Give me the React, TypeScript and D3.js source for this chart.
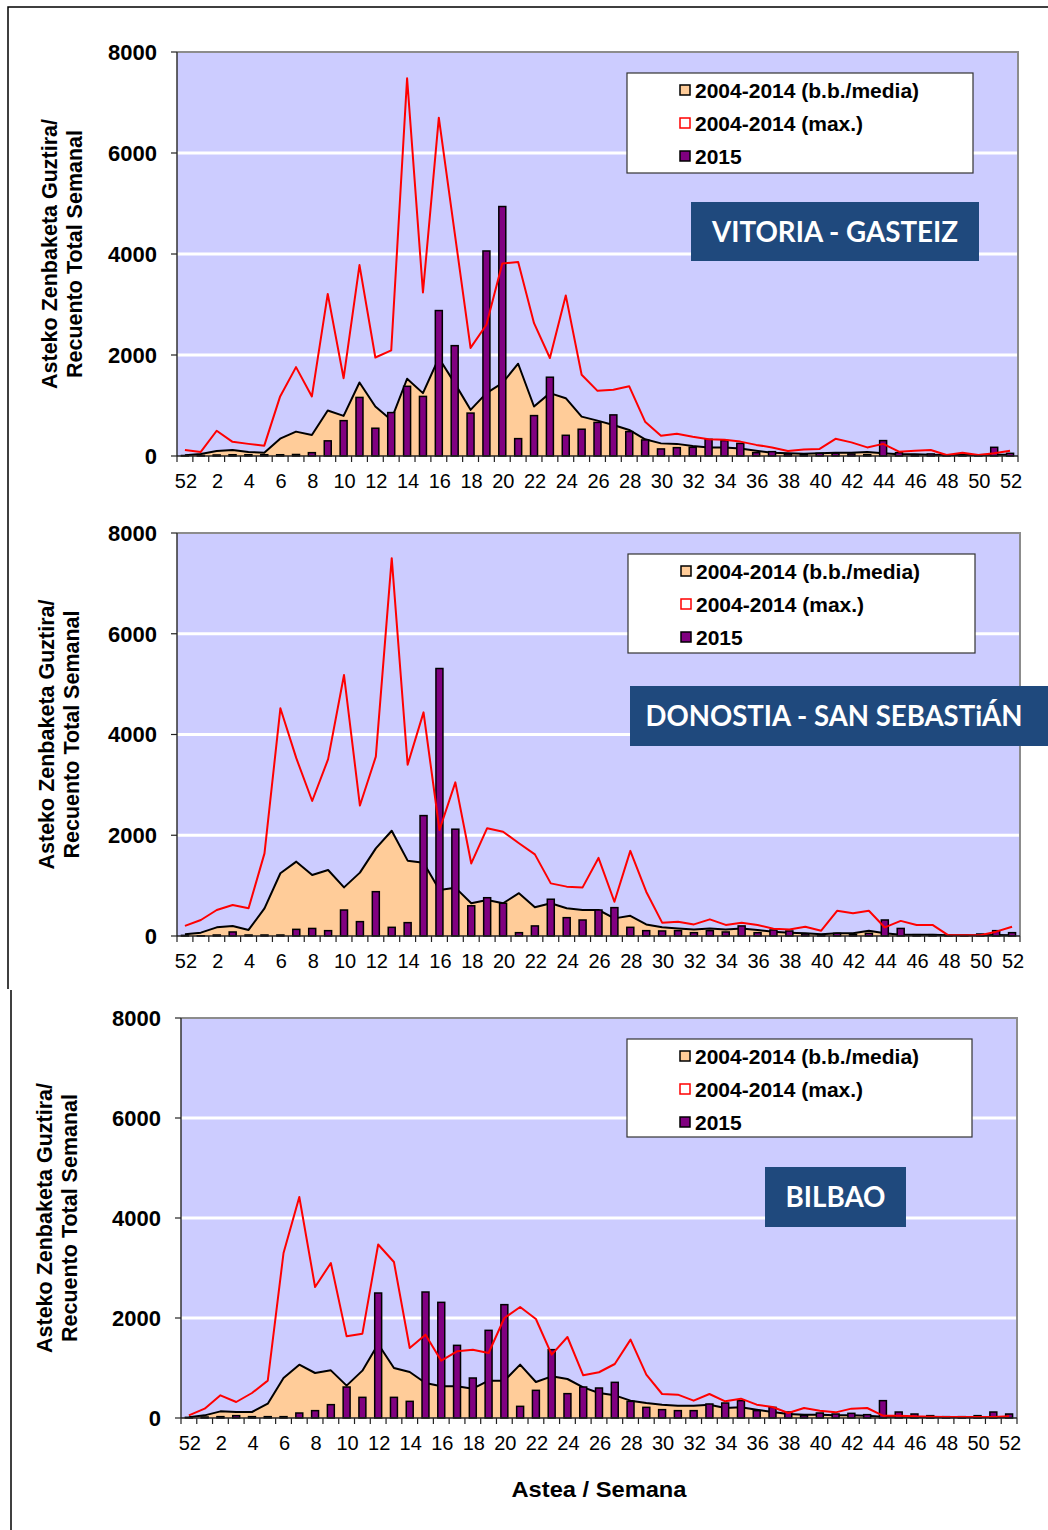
import React from "react";
import * as d3 from "d3";

const weeks = ["52","1","2","3","4","5","6","7","8","9","10","11","12","13","14","15","16","17","18","19","20","21","22","23","24","25","26","27","28","29","30","31","32","33","34","35","36","37","38","39","40","41","42","43","44","45","46","47","48","49","50","51","52"];
const yTicks = [0, 2000, 4000, 6000, 8000];
const seriesNames = ["2004-2014 (b.b./media)", "2004-2014 (max.)", "2015"];

const vitoriaMean = [13,40,100,120,80,66,344,483,417,900,794,1456,980,715,1530,1245,1940,1443,914,1245,1443,1827,980,1245,1145,780,700,615,516,330,250,240,200,170,170,150,106,66,53,46,53,66,66,80,53,33,33,26,20,20,20,26,26];
const vitoriaMax = [120,80,500,280,240,205,1180,1760,1180,3210,1540,3780,1950,2090,7480,3240,6700,4420,2140,2600,3810,3840,2630,1940,3180,1610,1290,1310,1380,680,400,440,380,330,320,285,220,170,100,130,140,340,270,170,240,86,106,120,20,66,20,53,106];
const vitoria2015 = [10,10,20,25,25,25,25,30,66,300,700,1160,550,860,1380,1180,2880,2185,850,4060,4940,344,800,1560,410,530,665,814,483,318,140,165,172,330,305,250,66,86,40,26,53,53,40,26,305,66,26,40,13,13,13,172,53];

const donostiaMean = [33,66,172,200,120,550,1245,1476,1210,1310,965,1258,1740,2090,1496,1456,914,960,650,715,650,850,570,650,550,516,516,350,400,230,172,150,130,150,130,150,120,86,66,53,33,53,53,106,53,26,26,26,13,13,13,20,13];
const donostiaMax = [200,318,516,615,550,1640,4520,3530,2680,3510,5180,2590,3560,7500,3400,4440,2105,3050,1440,2140,2070,1840,1620,1045,980,965,1550,680,1690,880,265,285,230,330,220,265,220,145,130,185,106,500,450,500,170,300,220,220,13,13,13,86,185];
const donostia2015 = [13,5,20,80,20,20,20,132,150,106,516,285,880,172,265,2390,5310,2120,600,760,650,66,200,730,364,318,516,563,172,106,100,106,66,106,80,200,66,120,100,40,26,53,33,53,318,150,26,26,13,13,40,106,66];

const bilbaoMean = [13,53,133,120,120,287,800,1067,900,953,647,947,1480,1000,920,700,633,633,587,747,747,1067,720,833,780,613,500,453,347,300,267,247,247,267,200,213,167,120,80,67,67,53,53,47,27,27,20,13,13,13,13,13,13];
const bilbaoMax = [53,187,453,320,500,747,3300,4420,2620,3100,1633,1687,3470,3120,1400,1667,1147,1333,1367,1300,2000,2220,1980,1267,1620,853,915,1080,1567,867,480,467,347,480,333,387,267,220,100,200,147,113,187,200,47,47,33,27,20,20,20,20,33];
const bilbao2015 = [13,20,27,47,27,27,27,100,147,267,620,413,2500,413,333,2520,2313,1453,800,1753,2267,233,553,1367,487,620,600,713,333,213,167,147,147,280,300,347,147,213,120,47,100,80,93,67,347,120,80,47,27,27,47,120,80];

const FONT = "'Liberation Sans', Arial, Helvetica, sans-serif";

type PanelCfg = {
  title: string;
  mean: number[];
  max: number[];
  y2015: number[];
  left: number; right: number; top: number; bottom: number;
  legend: { x: number; y: number; w: number; h: number };
  tbox: { x: number; y: number; w: number; h: number; tw: number };
  ytitle: [number, number];
};

const panels: PanelCfg[] = [
  {
    title: "VITORIA - GASTEIZ",
    mean: vitoriaMean, max: vitoriaMax, y2015: vitoria2015,
    left: 177, right: 1018, top: 52, bottom: 456,
    legend: { x: 627, y: 73, w: 346, h: 100 },
    tbox: { x: 691, y: 202, w: 288, h: 59, tw: 246 },
    ytitle: [49, 74],
  },
  {
    title: "DONOSTIA - SAN SEBASTiÁN",
    mean: donostiaMean, max: donostiaMax, y2015: donostia2015,
    left: 177, right: 1020, top: 533, bottom: 936,
    legend: { x: 628, y: 554, w: 347, h: 99 },
    tbox: { x: 630, y: 686, w: 420, h: 60, tw: 377 },
    ytitle: [46, 71],
  },
  {
    title: "BILBAO",
    mean: bilbaoMean, max: bilbaoMax, y2015: bilbao2015,
    left: 181, right: 1017, top: 1018, bottom: 1418,
    legend: { x: 627, y: 1039, w: 345, h: 98 },
    tbox: { x: 765, y: 1167, w: 141, h: 60, tw: 100 },
    ytitle: [44, 69],
  },
];

function Panel({ p }: { p: PanelCfg }) {
  const idx = d3.range(weeks.length);
  const x = d3.scaleBand<number>().domain(idx).range([p.left, p.right]).padding(0);
  const y = d3.scaleLinear().domain([0, 8000]).range([p.bottom, p.top]);
  const bw = x.bandwidth();
  const cx = (i: number) => (x(i) as number) + bw / 2;
  const area = d3.area<number>().x((_, i) => cx(i)).y0(p.bottom).y1((d) => y(d));
  const line = d3.line<number>().x((_, i) => cx(i)).y((d) => y(d));
  const barW = bw * 0.44;
  const ymid = (p.top + p.bottom) / 2;
  const L = p.legend;
  const rows = [L.y + 17, L.y + 50, L.y + 83];
  return (
    <g>
      <rect x={p.left} y={p.top} width={p.right - p.left} height={p.bottom - p.top} fill="#CCCCFF" />
      {yTicks.filter((t) => t > 0 && t < 8000).map((t) => (
        <line key={t} x1={p.left} x2={p.right} y1={y(t)} y2={y(t)} stroke="#FFFFFF" strokeWidth={3} />
      ))}
      <path d={`M${p.left},${p.top}H${p.right}V${p.bottom}`} fill="none" stroke="#8C8C8C" strokeWidth={2} />
      <path d={area(p.mean) as string} fill="#FFCC99" stroke="none" />
      <path d={line(p.mean) as string} fill="none" stroke="#000000" strokeWidth={2} strokeLinejoin="round" />
      {p.y2015.map((v, i) => (
        <rect key={i} x={cx(i) - barW / 2} y={y(v)} width={barW} height={p.bottom - y(v)} fill="#800080" stroke="#000000" strokeWidth={1.5} />
      ))}
      <path d={line(p.max) as string} fill="none" stroke="#FF0000" strokeWidth={2} strokeLinejoin="round" />
      <line x1={p.left} x2={p.left} y1={p.top} y2={p.bottom} stroke="#333" strokeWidth={1.5} />
      <line x1={p.left} x2={p.right} y1={p.bottom} y2={p.bottom} stroke="#222" strokeWidth={1.5} />
      {yTicks.map((t) => (
        <g key={t}>
          <line x1={p.left - 6} x2={p.left} y1={y(t)} y2={y(t)} stroke="#222" strokeWidth={1.2} />
          <text x={p.left - 20} y={y(t)} dy="0.36em" textAnchor="end" fontFamily={FONT} fontWeight="bold" fontSize={22} fill="#000">{t}</text>
        </g>
      ))}
      {d3.range(weeks.length + 1).map((i) => {
        const xx = i < weeks.length ? (x(i) as number) : p.right;
        return <line key={i} x1={xx} x2={xx} y1={p.bottom} y2={p.bottom + 6} stroke="#222" strokeWidth={1.2} />;
      })}
      {idx.filter((i) => i % 2 === 0).map((i) => (
        <text key={i} x={cx(i) + 1} y={p.bottom + 32} textAnchor="middle" fontFamily={FONT} fontSize={20} fill="#000">{weeks[i]}</text>
      ))}
      <text transform={`translate(${p.ytitle[0]},${ymid}) rotate(-90)`} dy="0.36em" textAnchor="middle" fontFamily={FONT} fontWeight="bold" fontSize={21.5} fill="#000">Asteko Zenbaketa Guztira/</text>
      <text transform={`translate(${p.ytitle[1]},${ymid}) rotate(-90)`} dy="0.36em" textAnchor="middle" fontFamily={FONT} fontWeight="bold" fontSize={21.5} fill="#000">Recuento Total Semanal</text>
      <rect x={L.x} y={L.y} width={L.w} height={L.h} fill="#FFFFFF" stroke="#333" strokeWidth={1.2} />
      <rect x={L.x + 53} y={rows[0] - 5} width={10} height={10} fill="#FFCC99" stroke="#000" strokeWidth={1.5} />
      <rect x={L.x + 53} y={rows[1] - 5} width={10} height={10} fill="#FFFFFF" stroke="#FF0000" strokeWidth={1.5} />
      <rect x={L.x + 53} y={rows[2] - 5} width={10} height={10} fill="#800080" stroke="#000" strokeWidth={1.5} />
      {seriesNames.map((s, k) => (
        <text key={s} x={L.x + 68} y={rows[k]} dy="0.36em" fontFamily={FONT} fontWeight="bold" fontSize={21} fill="#000">{s}</text>
      ))}
      <rect x={p.tbox.x} y={p.tbox.y} width={p.tbox.w} height={p.tbox.h} fill="#1F497D" />
      <text x={p.tbox.x + p.tbox.w / 2 + (p.title.length > 20 ? -6 : 0)} y={p.tbox.y + p.tbox.h / 2} dy="0.36em" textAnchor="middle"
        fontFamily="Lato, 'Open Sans', sans-serif" fontWeight="bold" fontSize={28} fill="#FFFFFF"
        textLength={p.tbox.tw} lengthAdjust="spacingAndGlyphs">{p.title}</text>
    </g>
  );
}

export default function App() {
  return (
    <svg width={1048} height={1530} viewBox="0 0 1048 1530"
      style={{ position: "absolute", left: 0, top: 0, background: "#FFFFFF" }}>
      <rect x={0} y={0} width={1048} height={1530} fill="#FFFFFF" />
      <path d="M8,989V7H1048" fill="none" stroke="#000" strokeWidth={1.5} />
      <line x1={11} x2={11} y1={990} y2={1530} stroke="#000" strokeWidth={1.5} />
      {panels.map((p) => <Panel key={p.title} p={p} />)}
      <text x={599} y={1497} textAnchor="middle" fontFamily={FONT} fontWeight="bold" fontSize={22} fill="#000"
        textLength={175} lengthAdjust="spacingAndGlyphs">Astea / Semana</text>
    </svg>
  );
}
